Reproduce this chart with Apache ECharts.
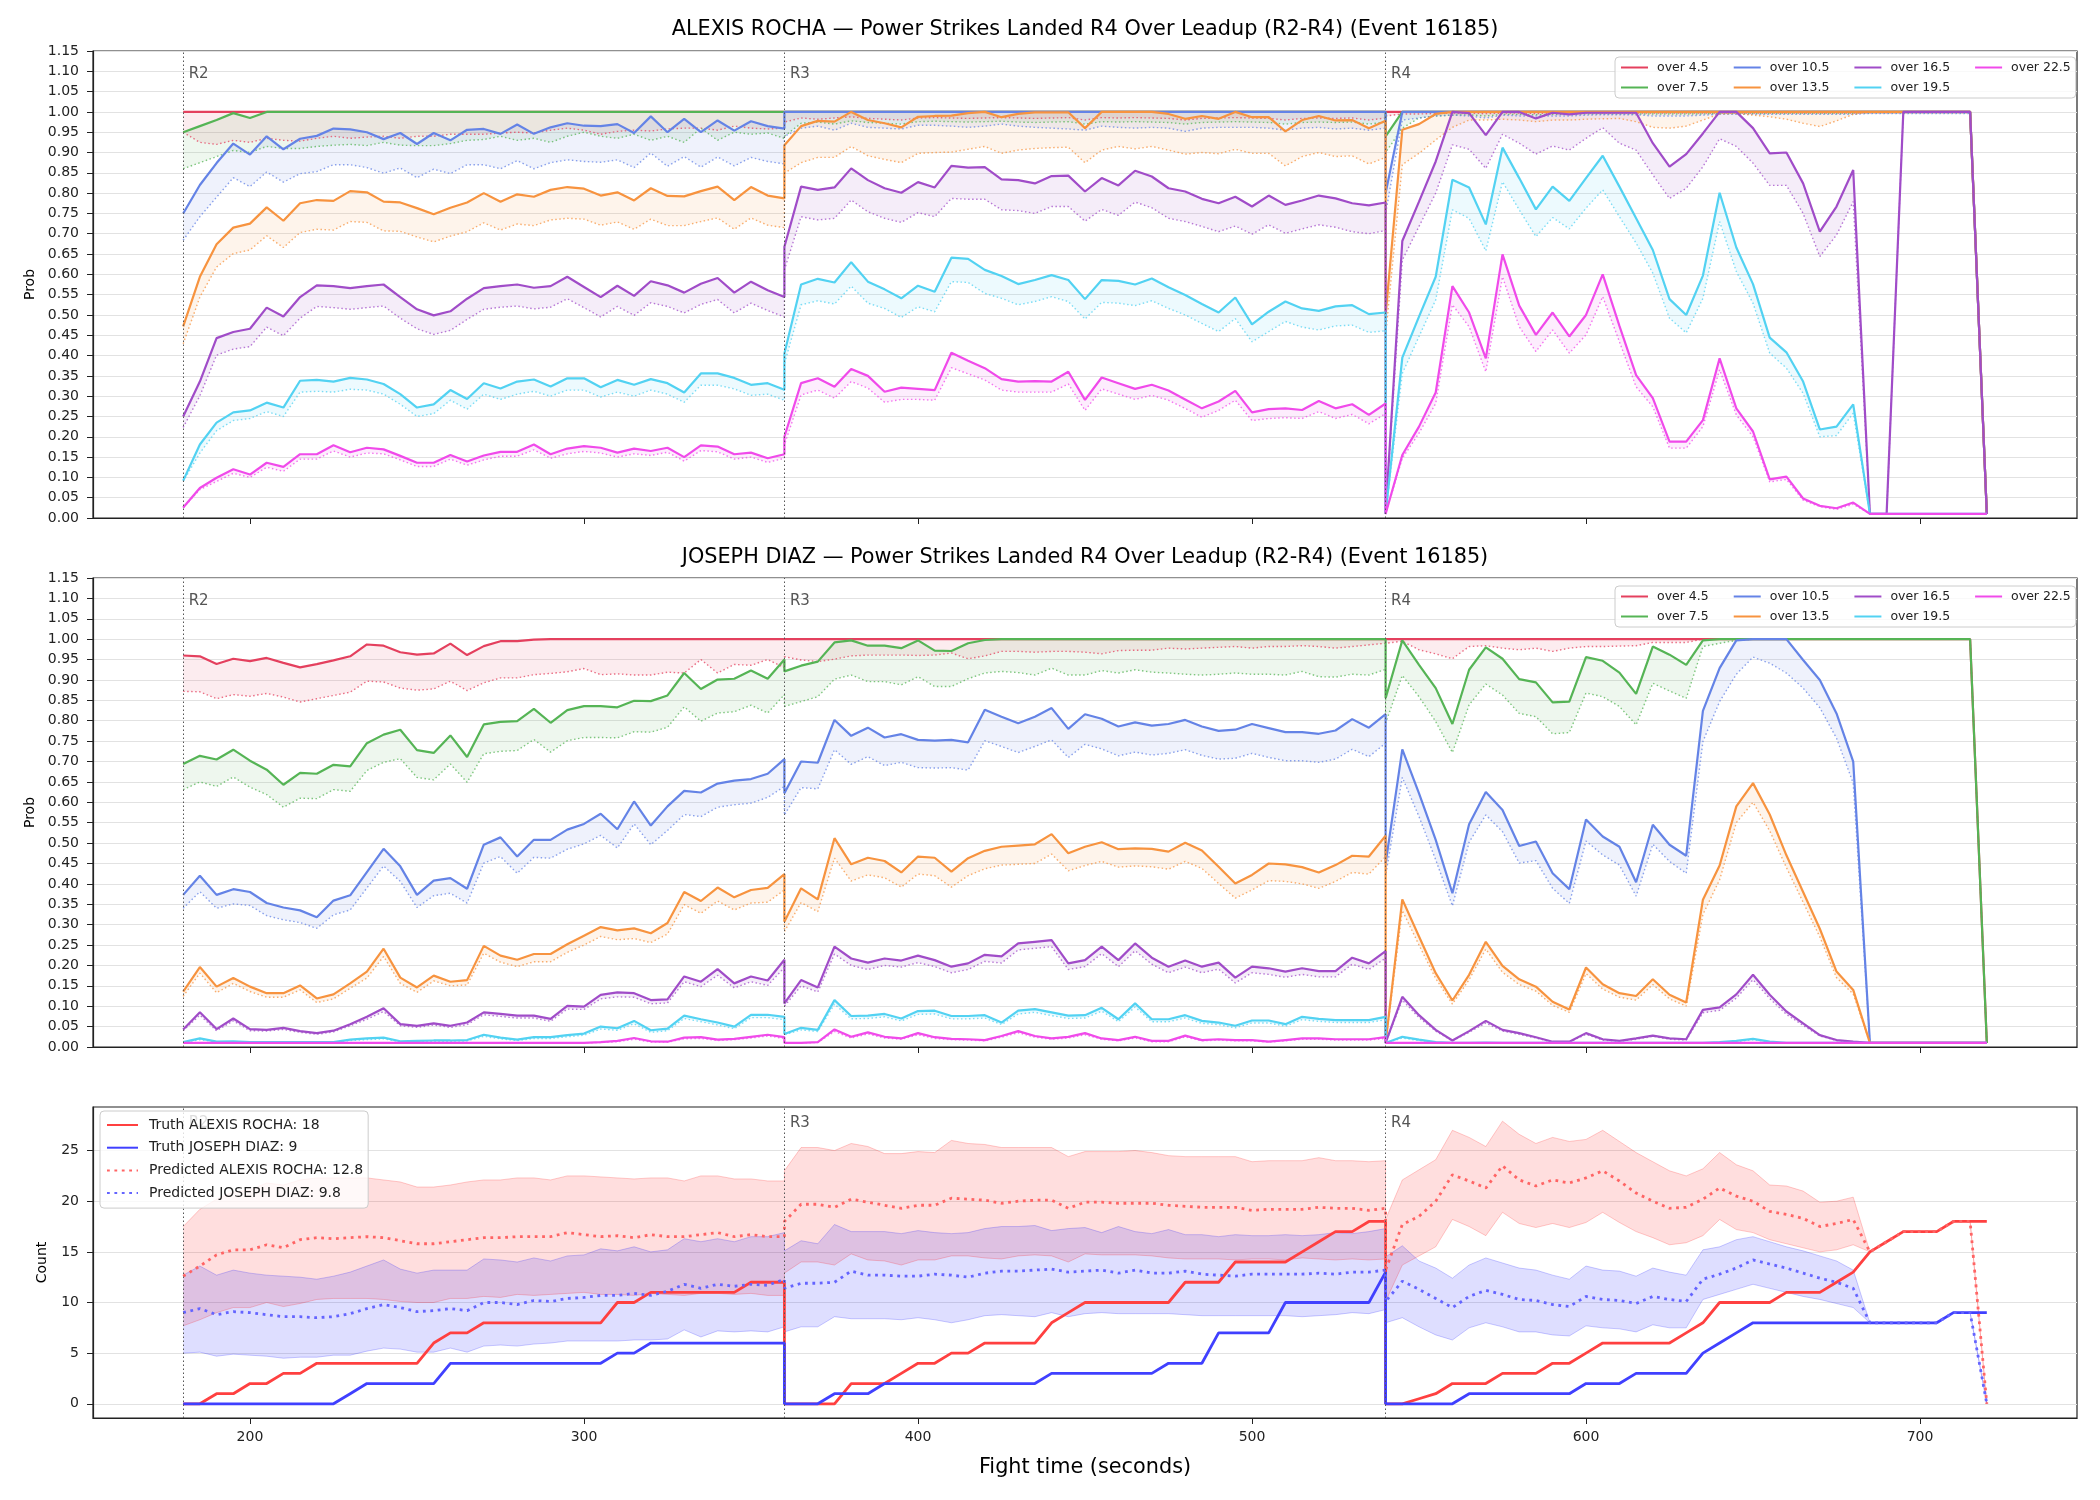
<!DOCTYPE html>
<html>
<head>
<meta charset="utf-8">
<title>Power Strikes Landed R4 Over Leadup</title>
<script src="https://cdn.jsdelivr.net/npm/echarts@6/dist/echarts.min.js"></script>
<style>
html, body { margin: 0; background: #fff; }
#chart { width: 2100px; height: 1500px; }
</style>
</head>
<body>
<div id="chart"></div>
<script>
// fight time of every sample (5 s steps, each round starts again at its boundary)
const times = [
  180,185,190,195,200,205,210,215,220,225,230,235,240,245,250,255,260,265,270,275,280,285,290,295,300,305,310,315,320,325,330,335,340,345,350,355,360,
  360,365,370,375,380,385,390,395,400,405,410,415,420,425,430,435,440,445,450,455,460,465,470,475,480,485,490,495,500,505,510,515,520,525,530,535,540,
  540,545,550,555,560,565,570,575,580,585,590,595,600,605,610,615,620,625,630,635,640,645,650,655,660,665,670,675,680,685,690,695,700,705,710,715,720];

const thresholdNames = ['over 4.5', 'over 7.5', 'over 10.5', 'over 13.5', 'over 16.5', 'over 19.5', 'over 22.5'];
const thresholdColors = ['#e4405e', '#55b455', '#6483e6', '#f7933f', '#a04cc8', '#52d2f2', '#f04aea'];
const roundStarts = [180, 360, 540];
const roundNames = ['R2', 'R3', 'R4'];
const xTicks = [200, 300, 400, 500, 600, 700];
const countTicks = [0, 5, 10, 15, 20, 25];

// ---- ALEXIS ROCHA: live probability (solid) and predicted (dotted) ----
const rochaOver45 = [
  1,1,1,1,1,1,1,1,1,1,1,1,1,1,1,1,1,1,1,1,1,1,1,1,1,1,1,1,1,1,1,1,1,1,1,1,1,
  1,1,1,1,1,1,1,1,1,1,1,1,1,1,1,1,1,1,1,1,1,1,1,1,1,1,1,1,1,1,1,1,1,1,1,1,1,
  1,1,1,1,1,1,1,1,1,1,1,1,1,1,1,1,1,1,1,1,1,1,1,1,1,1,1,1,1,1,1,1,1,1,1,1,0.01];
const rochaOver45Pred = [
  0.95,0.925,0.92,0.93,0.925,0.935,0.93,0.928,0.935,0.94,0.935,0.938,0.94,0.935,0.94,0.94,0.945,0.945,0.945,0.948,0.95,0.948,0.955,0.96,0.955,0.945,0.952,0.955,0.953,0.958,0.96,0.96,0.955,0.965,0.96,0.958,0.96,
  0.975,0.985,0.982,0.985,0.988,0.984,0.982,0.98,0.985,0.986,0.985,0.984,0.985,0.986,0.985,0.984,0.985,0.986,0.98,0.986,0.985,0.986,0.985,0.984,0.98,0.984,0.985,0.986,0.985,0.984,0.98,0.984,0.985,0.984,0.985,0.98,0.985,
  0.99,0.995,0.995,0.996,0.997,0.997,0.996,0.997,0.997,0.996,0.997,0.997,0.997,0.997,0.997,0.997,0.997,0.997,0.997,0.997,0.997,0.997,0.997,0.997,0.997,0.997,0.997,0.997,0.997,0.998,0.998,0.998,0.998,0.998,0.998,0.998,0.01];
const rochaOver75 = [
  0.95,0.965,0.98,0.997,0.985,1,1,1,1,1,1,1,1,1,1,1,1,1,1,1,1,1,1,1,1,1,1,1,1,1,1,1,1,1,1,1,1,
  1,1,1,1,1,1,1,1,1,1,1,1,1,1,1,1,1,1,1,1,1,1,1,1,1,1,1,1,1,1,1,1,1,1,1,1,1,
  0.94,1,1,1,1,1,1,1,1,1,1,1,1,1,1,1,1,1,1,1,1,1,1,1,1,1,1,1,1,1,1,1,1,1,1,1,0.01];
const rochaOver75Pred = [
  0.86,0.875,0.89,0.905,0.9,0.915,0.91,0.91,0.915,0.918,0.92,0.917,0.925,0.918,0.917,0.917,0.922,0.93,0.932,0.94,0.93,0.935,0.925,0.94,0.95,0.94,0.935,0.945,0.93,0.94,0.925,0.96,0.93,0.95,0.945,0.948,0.935,
  0.94,0.972,0.975,0.97,0.978,0.974,0.972,0.97,0.976,0.977,0.976,0.975,0.976,0.977,0.975,0.974,0.975,0.976,0.97,0.976,0.975,0.976,0.975,0.974,0.97,0.974,0.975,0.976,0.975,0.974,0.97,0.974,0.975,0.974,0.975,0.97,0.975,
  0.9,0.96,0.985,0.99,0.992,0.993,0.99,0.994,0.994,0.993,0.994,0.994,0.995,0.995,0.995,0.995,0.995,0.995,0.995,0.995,0.996,0.996,0.996,0.996,0.996,0.996,0.996,0.996,0.996,0.997,0.997,0.997,0.997,0.997,0.997,0.997,0.01];
const rochaOver105 = [
  0.75,0.82,0.874,0.922,0.895,0.94,0.908,0.934,0.941,0.959,0.957,0.95,0.933,0.948,0.921,0.948,0.93,0.956,0.958,0.946,0.969,0.946,0.962,0.972,0.966,0.965,0.97,0.948,0.989,0.95,0.983,0.95,0.979,0.954,0.977,0.965,0.959,
  1,1,1,1,1,1,1,1,1,1,1,1,1,1,1,1,1,1,1,1,1,1,1,1,1,1,1,1,1,1,1,1,1,1,1,1,1,
  0.8,1,1,1,1,1,1,1,1,1,1,1,1,1,1,1,1,1,1,1,1,1,1,1,1,1,1,1,1,1,1,1,1,1,1,1,0.01];
const rochaOver105Pred = [
  0.684,0.742,0.79,0.838,0.816,0.852,0.827,0.848,0.853,0.87,0.87,0.863,0.849,0.862,0.838,0.859,0.848,0.87,0.87,0.86,0.88,0.86,0.875,0.882,0.878,0.876,0.882,0.863,0.899,0.866,0.89,0.864,0.889,0.867,0.888,0.878,0.872,
  0.94,0.96,0.965,0.955,0.972,0.962,0.96,0.958,0.967,0.967,0.965,0.962,0.965,0.97,0.965,0.962,0.96,0.958,0.955,0.965,0.962,0.96,0.962,0.96,0.952,0.96,0.962,0.962,0.962,0.96,0.955,0.96,0.962,0.958,0.96,0.955,0.96,
  0.75,0.98,0.985,0.99,0.992,0.99,0.985,0.992,0.99,0.99,0.99,0.99,0.992,0.993,0.993,0.993,0.99,0.99,0.99,0.992,0.994,0.994,0.994,0.994,0.994,0.994,0.994,0.994,0.994,0.996,0.996,0.996,0.996,0.996,0.996,0.996,0.01];
const rochaOver135 = [
  0.472,0.594,0.674,0.715,0.725,0.765,0.732,0.775,0.783,0.781,0.805,0.802,0.779,0.777,0.763,0.748,0.764,0.777,0.8,0.779,0.797,0.791,0.808,0.815,0.811,0.794,0.802,0.782,0.812,0.793,0.792,0.805,0.816,0.783,0.815,0.794,0.787,
  0.918,0.965,0.978,0.976,1,0.98,0.972,0.962,0.988,0.99,0.991,0.997,1,0.987,0.995,0.999,0.999,0.999,0.96,1,1,1,1,0.995,0.983,0.99,0.983,1,0.987,0.987,0.952,0.98,0.99,0.979,0.98,0.96,0.978,
  0.5,0.956,0.97,0.995,1,1,1,1,1,1,1,1,1,1,1,1,1,1,1,1,1,1,1,1,1,1,1,1,1,1,1,1,1,1,1,1,0.01];
const rochaOver135Pred = [
  0.429,0.544,0.618,0.651,0.66,0.695,0.666,0.703,0.711,0.709,0.73,0.728,0.707,0.706,0.692,0.68,0.694,0.705,0.727,0.709,0.724,0.72,0.734,0.738,0.736,0.721,0.729,0.711,0.736,0.72,0.72,0.73,0.739,0.711,0.739,0.721,0.715,
  0.849,0.875,0.888,0.888,0.915,0.892,0.883,0.875,0.898,0.9,0.901,0.908,0.915,0.898,0.906,0.91,0.912,0.913,0.875,0.906,0.915,0.909,0.915,0.906,0.896,0.9,0.897,0.908,0.898,0.898,0.867,0.89,0.9,0.89,0.892,0.872,0.888,
  0.45,0.87,0.898,0.931,0.962,0.98,0.98,0.982,0.98,0.976,0.98,0.98,0.982,0.983,0.984,0.976,0.962,0.96,0.965,0.98,0.995,0.996,0.992,0.988,0.982,0.972,0.964,0.978,0.994,1,1,1,1,1,1,1,0.01];
const rochaOver165 = [
  0.25,0.336,0.443,0.458,0.466,0.518,0.496,0.544,0.573,0.571,0.566,0.571,0.575,0.544,0.514,0.499,0.509,0.54,0.566,0.571,0.575,0.567,0.571,0.594,0.569,0.544,0.572,0.547,0.583,0.573,0.555,0.577,0.591,0.555,0.582,0.561,0.544,
  0.668,0.816,0.808,0.814,0.861,0.832,0.812,0.801,0.827,0.814,0.867,0.863,0.864,0.834,0.832,0.824,0.842,0.843,0.804,0.837,0.819,0.855,0.841,0.812,0.804,0.786,0.775,0.791,0.767,0.794,0.771,0.782,0.794,0.787,0.775,0.77,0.777,
  0.01,0.682,0.779,0.878,1,0.997,0.943,1,1,0.984,0.998,0.994,0.998,0.998,0.998,0.998,0.923,0.865,0.896,0.947,1,1,0.96,0.898,0.9,0.824,0.705,0.767,0.857,0.01,0.01,1,1,1,1,1,0.01];
const rochaOver165Pred = [
  0.223,0.301,0.401,0.416,0.422,0.47,0.449,0.492,0.521,0.518,0.514,0.518,0.522,0.492,0.466,0.452,0.462,0.489,0.514,0.519,0.522,0.515,0.519,0.54,0.518,0.495,0.521,0.499,0.53,0.521,0.505,0.526,0.538,0.505,0.529,0.511,0.495,
  0.611,0.742,0.734,0.738,0.783,0.754,0.738,0.728,0.752,0.742,0.787,0.785,0.785,0.759,0.757,0.75,0.767,0.767,0.731,0.76,0.745,0.778,0.764,0.738,0.73,0.718,0.705,0.719,0.699,0.722,0.701,0.712,0.722,0.716,0.705,0.7,0.708,
  0.01,0.635,0.718,0.8,0.919,0.908,0.861,0.945,0.923,0.896,0.916,0.906,0.935,0.961,0.923,0.906,0.845,0.787,0.812,0.865,0.934,0.915,0.874,0.819,0.819,0.75,0.644,0.697,0.779,0.01,0.01,1,1,1,1,1,0.01];
const rochaOver195 = [
  0.092,0.181,0.235,0.26,0.265,0.284,0.272,0.338,0.34,0.336,0.345,0.341,0.33,0.305,0.272,0.28,0.315,0.293,0.332,0.319,0.336,0.341,0.324,0.344,0.344,0.322,0.34,0.328,0.342,0.332,0.309,0.356,0.356,0.345,0.328,0.332,0.316,
  0.405,0.575,0.589,0.58,0.63,0.582,0.563,0.541,0.572,0.557,0.641,0.638,0.611,0.596,0.576,0.586,0.598,0.586,0.539,0.586,0.584,0.575,0.59,0.568,0.549,0.527,0.506,0.543,0.477,0.508,0.533,0.516,0.51,0.521,0.524,0.502,0.506,
  0.01,0.395,0.496,0.594,0.833,0.814,0.723,0.912,0.837,0.76,0.816,0.781,0.837,0.892,0.816,0.738,0.66,0.539,0.5,0.597,0.801,0.666,0.576,0.444,0.408,0.336,0.218,0.225,0.28,0.01,0.01,0.01,0.01,0.01,0.01,0.01,0.01];
const rochaOver195Pred = [
  0.09,0.16,0.215,0.24,0.245,0.262,0.25,0.31,0.312,0.31,0.317,0.315,0.305,0.28,0.25,0.257,0.29,0.268,0.305,0.292,0.305,0.312,0.3,0.315,0.315,0.298,0.31,0.3,0.315,0.305,0.285,0.327,0.327,0.318,0.302,0.305,0.29,
  0.38,0.525,0.535,0.527,0.571,0.529,0.516,0.494,0.52,0.508,0.582,0.58,0.553,0.541,0.525,0.533,0.545,0.533,0.49,0.531,0.529,0.523,0.535,0.516,0.5,0.479,0.459,0.491,0.434,0.459,0.484,0.47,0.463,0.473,0.475,0.457,0.461,
  0.01,0.356,0.447,0.537,0.759,0.738,0.658,0.828,0.759,0.693,0.74,0.712,0.763,0.808,0.742,0.677,0.603,0.492,0.456,0.541,0.73,0.607,0.529,0.406,0.369,0.307,0.2,0.203,0.258,0.01,0.01,0.01,0.01,0.01,0.01,0.01,0.01];
const rochaOver225 = [
  0.026,0.074,0.099,0.12,0.107,0.136,0.126,0.157,0.157,0.179,0.162,0.173,0.169,0.153,0.136,0.136,0.155,0.139,0.154,0.163,0.163,0.181,0.157,0.171,0.177,0.173,0.161,0.171,0.165,0.173,0.15,0.179,0.176,0.157,0.161,0.147,0.157,
  0.2,0.332,0.344,0.323,0.367,0.35,0.311,0.321,0.318,0.315,0.407,0.387,0.369,0.342,0.336,0.337,0.336,0.36,0.291,0.346,0.332,0.318,0.328,0.314,0.292,0.27,0.287,0.313,0.26,0.268,0.27,0.266,0.288,0.27,0.28,0.254,0.282,
  0.01,0.155,0.225,0.309,0.571,0.506,0.393,0.649,0.523,0.451,0.506,0.447,0.5,0.6,0.473,0.352,0.295,0.188,0.188,0.241,0.393,0.27,0.213,0.095,0.102,0.048,0.03,0.024,0.038,0.01,0.01,0.01,0.01,0.01,0.01,0.01,0.01];
const rochaOver225Pred = [
  0.025,0.07,0.09,0.11,0.1,0.125,0.115,0.145,0.145,0.165,0.15,0.16,0.158,0.143,0.127,0.127,0.145,0.13,0.143,0.152,0.152,0.168,0.147,0.158,0.164,0.16,0.15,0.158,0.154,0.162,0.14,0.166,0.163,0.145,0.15,0.137,0.147,
  0.18,0.303,0.315,0.295,0.336,0.32,0.285,0.292,0.292,0.29,0.37,0.355,0.34,0.315,0.31,0.31,0.31,0.33,0.265,0.318,0.305,0.292,0.302,0.29,0.27,0.248,0.265,0.29,0.24,0.245,0.247,0.245,0.262,0.245,0.255,0.232,0.257,
  0.01,0.147,0.209,0.282,0.525,0.471,0.36,0.594,0.471,0.41,0.463,0.406,0.451,0.545,0.434,0.323,0.274,0.172,0.172,0.225,0.365,0.254,0.2,0.089,0.095,0.044,0.028,0.021,0.034,0.01,0.01,0.01,0.01,0.01,0.01,0.01,0.01];

// ---- JOSEPH DIAZ ----
const diazOver45 = [
  0.96,0.958,0.939,0.952,0.946,0.954,0.942,0.931,0.939,0.948,0.958,0.987,0.984,0.968,0.962,0.965,0.989,0.961,0.983,0.995,0.995,0.999,1,1,1,1,1,1,1,1,1,1,1,1,1,1,1,
  1,1,1,1,1,1,1,1,1,1,1,1,1,1,1,1,1,1,1,1,1,1,1,1,1,1,1,1,1,1,1,1,1,1,1,1,1,
  1,1,1,1,1,1,1,1,1,1,1,1,1,1,1,1,1,1,1,1,1,1,1,1,1,1,1,1,1,1,1,1,1,1,1,1,0.01];
const diazOver45Pred = [
  0.872,0.871,0.854,0.864,0.86,0.867,0.858,0.846,0.854,0.862,0.87,0.897,0.895,0.88,0.875,0.878,0.897,0.874,0.893,0.905,0.905,0.913,0.916,0.92,0.928,0.913,0.915,0.912,0.912,0.919,0.917,0.95,0.917,0.938,0.936,0.95,0.93,
  0.957,0.949,0.945,0.951,0.959,0.961,0.961,0.961,0.96,0.961,0.966,0.952,0.959,0.97,0.97,0.968,0.97,0.97,0.968,0.964,0.972,0.973,0.973,0.978,0.976,0.978,0.98,0.982,0.978,0.982,0.982,0.984,0.982,0.978,0.982,0.986,0.99,
  0.99,0.995,0.974,0.964,0.952,0.982,0.984,0.978,0.974,0.978,0.97,0.978,0.982,0.982,0.983,0.984,0.992,0.992,0.992,1,1,1,1,1,1,1,1,1,1,1,1,1,1,1,1,1,0.01];
const diazOver75 = [
  0.694,0.714,0.705,0.729,0.702,0.68,0.643,0.672,0.67,0.692,0.688,0.745,0.766,0.778,0.728,0.721,0.764,0.711,0.791,0.797,0.799,0.829,0.795,0.826,0.836,0.836,0.833,0.849,0.848,0.862,0.917,0.878,0.901,0.903,0.923,0.903,0.95,
  0.921,0.935,0.945,0.992,0.997,0.984,0.984,0.978,0.997,0.972,0.971,0.99,0.998,1,1,1,1,1,1,1,1,1,1,1,1,1,1,1,1,1,1,1,1,1,1,1,1,
  0.855,0.997,0.937,0.88,0.792,0.925,0.98,0.952,0.902,0.894,0.845,0.847,0.956,0.947,0.918,0.866,0.982,0.962,0.937,0.997,1,1,1,1,1,1,1,1,1,1,1,1,1,1,1,1,0.01];
const diazOver75Pred = [
  0.631,0.65,0.639,0.662,0.637,0.619,0.588,0.61,0.609,0.631,0.627,0.678,0.698,0.707,0.661,0.655,0.694,0.649,0.719,0.725,0.727,0.754,0.723,0.751,0.759,0.759,0.758,0.773,0.772,0.784,0.834,0.799,0.819,0.822,0.838,0.819,0.864,
  0.835,0.847,0.859,0.902,0.912,0.896,0.896,0.888,0.908,0.884,0.884,0.903,0.917,0.921,0.918,0.912,0.929,0.912,0.912,0.923,0.917,0.925,0.919,0.917,0.914,0.912,0.914,0.917,0.914,0.914,0.912,0.921,0.908,0.907,0.914,0.912,0.926,
  0.794,0.911,0.859,0.798,0.722,0.839,0.89,0.863,0.818,0.81,0.768,0.771,0.868,0.859,0.835,0.79,0.892,0.873,0.855,0.982,0.99,0.997,1,1,1,1,1,1,1,1,1,1,1,1,1,1,0.01];
const diazOver105 = [
  0.373,0.42,0.373,0.387,0.38,0.353,0.342,0.335,0.318,0.359,0.372,0.429,0.486,0.443,0.373,0.408,0.414,0.388,0.496,0.514,0.467,0.508,0.508,0.533,0.547,0.572,0.534,0.602,0.543,0.59,0.628,0.624,0.646,0.653,0.657,0.67,0.706,
  0.622,0.7,0.697,0.802,0.763,0.783,0.759,0.767,0.753,0.751,0.753,0.747,0.827,0.81,0.794,0.81,0.831,0.78,0.816,0.805,0.786,0.796,0.788,0.792,0.802,0.786,0.775,0.778,0.792,0.782,0.772,0.772,0.768,0.776,0.804,0.783,0.816,
  0.45,0.73,0.622,0.508,0.377,0.546,0.625,0.581,0.493,0.504,0.426,0.387,0.558,0.516,0.491,0.404,0.545,0.496,0.469,0.824,0.929,0.997,1,1,1,0.949,0.9,0.818,0.7,0.01,0.01,0.01,0.01,0.01,0.01,0.01,0.01];
const diazOver105Pred = [
  0.34,0.381,0.34,0.351,0.347,0.322,0.312,0.305,0.291,0.324,0.336,0.39,0.444,0.406,0.342,0.371,0.377,0.353,0.451,0.467,0.426,0.465,0.463,0.485,0.498,0.519,0.488,0.547,0.496,0.531,0.57,0.565,0.588,0.594,0.598,0.612,0.639,
  0.569,0.636,0.633,0.729,0.693,0.712,0.69,0.698,0.685,0.684,0.685,0.679,0.751,0.737,0.722,0.737,0.753,0.71,0.742,0.731,0.714,0.723,0.716,0.72,0.729,0.715,0.706,0.708,0.72,0.71,0.702,0.702,0.698,0.706,0.73,0.712,0.745,
  0.42,0.661,0.565,0.459,0.346,0.502,0.569,0.528,0.451,0.457,0.389,0.352,0.505,0.471,0.446,0.37,0.497,0.455,0.426,0.749,0.847,0.914,0.956,0.941,0.917,0.88,0.832,0.757,0.647,0.01,0.01,0.01,0.01,0.01,0.01,0.01,0.01];
const diazOver135 = [
  0.136,0.196,0.148,0.169,0.148,0.132,0.132,0.151,0.119,0.129,0.156,0.185,0.241,0.17,0.146,0.175,0.16,0.164,0.248,0.224,0.214,0.228,0.228,0.252,0.273,0.294,0.286,0.291,0.279,0.304,0.38,0.358,0.391,0.367,0.385,0.39,0.424,
  0.307,0.389,0.362,0.512,0.448,0.464,0.456,0.428,0.467,0.464,0.43,0.463,0.481,0.491,0.494,0.497,0.522,0.475,0.491,0.502,0.485,0.487,0.486,0.479,0.501,0.482,0.442,0.401,0.422,0.45,0.448,0.441,0.428,0.446,0.469,0.467,0.518,
  0.01,0.362,0.271,0.181,0.114,0.177,0.258,0.199,0.166,0.148,0.111,0.092,0.195,0.154,0.132,0.125,0.166,0.128,0.109,0.361,0.445,0.59,0.647,0.57,0.47,0.38,0.29,0.185,0.14,0.01,0.01,0.01,0.01,0.01,0.01,0.01,0.01];
const diazOver135Pred = [
  0.124,0.181,0.133,0.156,0.136,0.122,0.122,0.14,0.109,0.118,0.144,0.169,0.222,0.156,0.134,0.162,0.15,0.152,0.23,0.208,0.197,0.209,0.209,0.232,0.25,0.271,0.263,0.266,0.256,0.277,0.349,0.328,0.358,0.336,0.353,0.355,0.385,
  0.283,0.354,0.332,0.463,0.407,0.422,0.415,0.392,0.424,0.42,0.392,0.42,0.437,0.446,0.448,0.45,0.473,0.432,0.445,0.455,0.441,0.444,0.442,0.436,0.455,0.438,0.401,0.365,0.385,0.408,0.406,0.4,0.389,0.406,0.428,0.424,0.467,
  0.01,0.335,0.25,0.168,0.105,0.165,0.24,0.183,0.153,0.137,0.102,0.085,0.18,0.142,0.122,0.115,0.153,0.118,0.1,0.325,0.41,0.55,0.6,0.53,0.44,0.355,0.27,0.17,0.13,0.01,0.01,0.01,0.01,0.01,0.01,0.01,0.01];
const diazOver165 = [
  0.043,0.085,0.044,0.07,0.044,0.042,0.047,0.039,0.034,0.04,0.056,0.074,0.095,0.056,0.052,0.058,0.052,0.06,0.085,0.081,0.077,0.077,0.069,0.101,0.099,0.128,0.134,0.132,0.115,0.117,0.173,0.16,0.191,0.156,0.173,0.163,0.214,
  0.107,0.164,0.146,0.246,0.217,0.207,0.217,0.212,0.224,0.213,0.197,0.205,0.226,0.222,0.254,0.258,0.262,0.205,0.213,0.246,0.213,0.254,0.219,0.197,0.212,0.197,0.207,0.17,0.197,0.193,0.185,0.193,0.186,0.186,0.219,0.205,0.235,
  0.01,0.123,0.078,0.042,0.016,0.039,0.064,0.042,0.034,0.024,0.013,0.013,0.034,0.019,0.015,0.021,0.028,0.021,0.019,0.091,0.097,0.129,0.177,0.128,0.087,0.058,0.029,0.017,0.013,0.01,0.01,0.01,0.01,0.01,0.01,0.01,0.01];
const diazOver165Pred = [
  0.04,0.078,0.04,0.064,0.04,0.039,0.043,0.036,0.031,0.037,0.052,0.068,0.087,0.052,0.048,0.054,0.048,0.055,0.079,0.075,0.071,0.071,0.063,0.093,0.092,0.118,0.123,0.122,0.106,0.108,0.16,0.148,0.176,0.145,0.16,0.151,0.195,
  0.1,0.15,0.135,0.228,0.2,0.19,0.2,0.196,0.207,0.197,0.182,0.19,0.21,0.206,0.238,0.242,0.246,0.19,0.197,0.229,0.197,0.236,0.203,0.182,0.196,0.182,0.191,0.157,0.182,0.178,0.171,0.178,0.172,0.172,0.203,0.19,0.218,
  0.01,0.115,0.072,0.039,0.015,0.036,0.059,0.039,0.031,0.022,0.012,0.012,0.031,0.017,0.014,0.019,0.026,0.019,0.017,0.084,0.09,0.12,0.165,0.119,0.08,0.053,0.027,0.016,0.012,0.01,0.01,0.01,0.01,0.01,0.01,0.01,0.01];
const diazOver195 = [
  0.012,0.021,0.013,0.014,0.012,0.012,0.012,0.012,0.012,0.012,0.018,0.021,0.023,0.014,0.015,0.016,0.016,0.017,0.03,0.023,0.018,0.024,0.024,0.029,0.033,0.05,0.046,0.064,0.041,0.045,0.077,0.068,0.06,0.05,0.079,0.079,0.074,
  0.032,0.047,0.042,0.115,0.076,0.077,0.081,0.07,0.088,0.089,0.076,0.076,0.078,0.06,0.089,0.093,0.085,0.077,0.078,0.096,0.068,0.107,0.068,0.068,0.078,0.064,0.06,0.052,0.065,0.065,0.056,0.074,0.069,0.066,0.066,0.066,0.074,
  0.01,0.025,0.018,0.012,0.01,0.01,0.011,0.01,0.01,0.01,0.01,0.01,0.01,0.01,0.01,0.01,0.01,0.01,0.01,0.01,0.012,0.015,0.02,0.013,0.01,0.01,0.01,0.01,0.01,0.01,0.01,0.01,0.01,0.01,0.01,0.01,0.01];
const diazOver195Pred = [
  0.011,0.018,0.012,0.013,0.011,0.011,0.011,0.011,0.011,0.011,0.016,0.018,0.02,0.013,0.013,0.014,0.014,0.015,0.026,0.02,0.016,0.021,0.021,0.025,0.029,0.044,0.041,0.057,0.036,0.04,0.07,0.062,0.054,0.045,0.072,0.072,0.067,
  0.03,0.042,0.038,0.105,0.069,0.07,0.074,0.064,0.08,0.081,0.069,0.069,0.071,0.055,0.081,0.085,0.077,0.07,0.071,0.088,0.062,0.098,0.062,0.062,0.071,0.058,0.055,0.047,0.059,0.059,0.051,0.067,0.063,0.06,0.06,0.06,0.067,
  0.01,0.022,0.016,0.011,0.01,0.01,0.01,0.01,0.01,0.01,0.01,0.01,0.01,0.01,0.01,0.01,0.01,0.01,0.01,0.01,0.011,0.013,0.018,0.012,0.01,0.01,0.01,0.01,0.01,0.01,0.01,0.01,0.01,0.01,0.01,0.01,0.01];
const diazOver225 = [
  0.01,0.01,0.01,0.01,0.01,0.01,0.01,0.01,0.01,0.01,0.01,0.01,0.01,0.01,0.01,0.01,0.01,0.01,0.01,0.01,0.01,0.01,0.01,0.01,0.01,0.012,0.015,0.022,0.014,0.013,0.023,0.024,0.018,0.02,0.025,0.03,0.024,
  0.01,0.01,0.012,0.043,0.025,0.036,0.025,0.021,0.034,0.024,0.02,0.019,0.017,0.027,0.039,0.027,0.021,0.025,0.034,0.021,0.017,0.025,0.015,0.015,0.028,0.017,0.019,0.017,0.017,0.013,0.017,0.021,0.021,0.019,0.019,0.019,0.024,
  0.01,0.01,0.01,0.01,0.01,0.01,0.01,0.01,0.01,0.01,0.01,0.01,0.01,0.01,0.01,0.01,0.01,0.01,0.01,0.01,0.01,0.01,0.01,0.01,0.01,0.01,0.01,0.01,0.01,0.01,0.01,0.01,0.01,0.01,0.01,0.01,0.01];
const diazOver225Pred = [
  0.01,0.01,0.01,0.01,0.01,0.01,0.01,0.01,0.01,0.01,0.01,0.01,0.01,0.01,0.01,0.01,0.01,0.01,0.01,0.01,0.01,0.01,0.01,0.01,0.01,0.011,0.013,0.019,0.012,0.012,0.02,0.021,0.016,0.018,0.022,0.027,0.021,
  0.01,0.01,0.011,0.038,0.022,0.032,0.022,0.019,0.03,0.021,0.018,0.017,0.015,0.024,0.035,0.024,0.019,0.022,0.03,0.019,0.015,0.022,0.013,0.013,0.025,0.015,0.017,0.015,0.015,0.012,0.015,0.019,0.019,0.017,0.017,0.017,0.021,
  0.01,0.01,0.01,0.01,0.01,0.01,0.01,0.01,0.01,0.01,0.01,0.01,0.01,0.01,0.01,0.01,0.01,0.01,0.01,0.01,0.01,0.01,0.01,0.01,0.01,0.01,0.01,0.01,0.01,0.01,0.01,0.01,0.01,0.01,0.01,0.01,0.01];

// ---- counts panel ----
const truthRocha = [
  0,0,1,1,2,2,3,3,4,4,4,4,4,4,4,6,7,7,8,8,8,8,8,8,8,8,10,10,11,11,11,11,11,11,12,12,12,
  0,0,0,0,2,2,2,3,4,4,5,5,6,6,6,6,8,9,10,10,10,10,10,10,12,12,12,14,14,14,14,15,16,17,17,18,18,
  0,0,0.5,1,2,2,2,3,3,3,4,4,5,6,6,6,6,6,7,8,10,10,10,10,11,11,11,12,13,15,16,17,17,17,18,18,18];
const truthDiaz = [
  0,0,0,0,0,0,0,0,0,0,1,2,2,2,2,2,4,4,4,4,4,4,4,4,4,4,5,5,6,6,6,6,6,6,6,6,6,
  0,0,0,1,1,1,2,2,2,2,2,2,2,2,2,2,3,3,3,3,3,3,3,4,4,4,7,7,7,7,10,10,10,10,10,10,13,
  0,0,0,0,0,1,1,1,1,1,1,1,2,2,2,3,3,3,3,5,6,7,8,8,8,8,8,8,8,8,8,8,8,8,9,9,9];
const predRocha = [
  12.6,13.6,14.7,15.2,15.2,15.7,15.4,16.2,16.4,16.3,16.4,16.5,16.4,16.1,15.8,15.8,16.0,16.2,16.4,16.4,16.5,16.5,16.5,16.9,16.7,16.5,16.6,16.4,16.7,16.5,16.5,16.7,16.9,16.5,16.7,16.5,16.5,
  18.0,19.7,19.7,19.4,20.2,19.9,19.6,19.3,19.6,19.6,20.3,20.2,20.1,19.8,20.0,20.1,20.1,19.3,19.9,19.9,19.8,19.8,19.8,19.6,19.5,19.4,19.4,19.4,19.1,19.2,19.2,19.2,19.4,19.3,19.3,19.1,19.3,
  13.2,17.7,18.5,20.0,22.6,22.0,21.3,23.5,22.1,21.5,22.1,21.8,22.3,23.0,22.0,20.8,20.0,19.3,19.4,20.2,21.3,20.5,20.0,19.0,18.7,18.3,17.5,17.8,18.2,15,16,17,17,17,18,18,0];
const upperRocha = [
  17.5,19.2,20.2,20.9,21.1,21.8,21.6,22.1,22.3,22.3,22.3,22.3,22.1,21.9,21.4,21.4,21.6,21.9,22.1,22.1,22.3,22.3,22.1,22.5,22.5,22.4,22.3,22.2,22.3,22.3,22.0,22.5,22.5,22.2,22.2,22.0,22.0,
  23.0,25.3,25.3,25.0,25.7,25.4,24.7,24.7,24.9,24.8,26.0,25.7,25.6,25.3,25.3,25.3,25.3,24.4,24.9,24.9,24.9,25.0,24.8,24.5,24.4,24.4,24.4,24.4,23.9,24.0,24.0,24.0,24.3,24.0,24.0,23.9,24.0,
  18.2,22.1,23.1,24.1,27.0,26.3,25.4,27.9,26.6,25.7,26.3,25.9,26.1,27.0,25.9,24.8,23.9,23.0,22.5,23.2,24.8,23.6,23.0,21.6,21.5,21.0,19.9,20.0,20.4,15,16,17,17,17,18,18,0];
const lowerRocha = [
  7.7,8.3,9.0,9.5,9.5,10.0,9.6,9.9,10.3,10.4,10.4,10.4,10.3,10.1,10.0,10.0,10.4,10.4,10.6,10.5,10.8,10.7,10.8,10.9,11.0,10.8,10.8,10.7,10.9,10.8,10.7,10.9,10.9,10.8,10.9,10.7,10.7,
  12.9,14.0,14.0,13.7,14.8,14.2,14.1,13.7,14.2,14.2,14.6,14.6,14.4,14.3,14.6,14.7,14.6,14.0,14.8,14.7,14.7,14.7,14.6,14.4,14.3,14.3,14.3,14.2,14.3,14.3,14.2,14.4,14.3,14.2,14.3,14.2,14.3,
  10.1,13.7,14.6,15.5,18.2,17.5,16.6,18.9,17.8,17.4,17.8,17.4,17.9,18.9,17.9,17.0,16.4,15.7,15.9,16.6,18.2,17.2,16.9,16.2,15.8,15.4,15.0,15.2,15.7,15,16,17,17,17,18,18,0];
const predDiaz = [
  9.0,9.4,8.8,9.1,9.0,8.8,8.6,8.6,8.5,8.6,8.9,9.4,9.8,9.5,9.1,9.2,9.4,9.2,10.0,10.0,9.8,10.2,10.1,10.4,10.5,10.7,10.7,10.9,10.7,11.1,11.8,11.4,11.8,11.6,11.8,11.7,12.3,
  11.4,11.9,11.9,12.0,13.1,12.7,12.7,12.6,12.6,12.8,12.7,12.5,12.9,13.1,13.1,13.2,13.3,13.0,13.1,13.2,12.9,13.2,12.9,12.9,13.1,12.8,12.7,12.6,12.8,12.8,12.8,12.8,12.9,12.8,13.0,13.0,13.2,
  10.1,12.1,11.3,10.4,9.5,10.6,11.2,10.8,10.3,10.2,9.8,9.6,10.6,10.3,10.2,9.9,10.6,10.3,10.1,12.3,12.8,13.4,14.2,13.8,13.4,12.9,12.4,12.0,11.4,8,8,8,8,8,9,9,0];
const upperDiaz = [
  12.7,13.6,12.7,13.2,12.9,12.7,12.6,12.5,12.3,12.6,13.0,13.6,14.2,13.3,12.9,13.2,13.2,13.2,14.3,14.2,14.0,14.4,14.1,14.6,14.7,15.3,15.1,15.5,15.0,15.2,16.3,16.0,16.3,16.0,16.5,16.5,16.9,
  15.1,16.1,15.8,17.7,17.0,17.0,17.0,16.8,17.1,16.9,16.8,16.9,17.3,17.5,17.5,17.6,17.1,17.3,17.4,16.9,17.5,17.0,16.8,17.2,16.7,16.7,16.5,16.7,16.6,16.6,16.7,16.6,16.7,16.9,16.8,17.0,17.3,
  14.5,15.6,14.1,13.4,12.4,13.7,14.4,13.9,13.4,13.2,12.7,12.3,13.6,13.2,13.1,12.6,13.4,13.0,12.7,15.2,15.5,16.2,16.5,16.0,15.5,15.1,14.6,14.1,13.2,8,8,8,8,8,9,9,0];
const lowerDiaz = [
  5.0,5.1,4.7,4.9,4.8,4.7,4.5,4.6,4.6,4.8,4.8,5.2,5.5,5.4,5.1,5.1,5.5,5.1,5.7,5.8,5.7,5.9,6.0,6.2,6.2,6.2,6.2,6.3,6.3,6.4,7.3,6.6,7.2,7.1,7.2,7.1,7.6,
  7.1,7.6,7.6,8.6,8.4,8.4,8.4,8.3,8.5,8.3,8.0,8.3,8.7,8.8,8.7,8.6,9.0,8.6,8.9,9.0,8.9,8.9,8.9,8.9,8.8,8.7,8.7,8.7,8.7,8.7,8.7,8.6,8.7,8.8,9.0,8.9,9.3,
  8.0,8.5,7.6,6.8,6.3,7.5,8.0,7.6,7.1,7.1,6.8,6.7,7.7,7.5,7.4,7.1,7.8,7.5,7.5,10.3,10.8,11.3,11.8,11.4,11.0,10.6,10.3,9.9,9.5,8,8,8,8,8,9,9,0];

const titleRocha = 'ALEXIS ROCHA \u2014 Power Strikes Landed R4 Over Leadup (R2-R4) (Event 16185)';
const titleDiaz = 'JOSEPH DIAZ \u2014 Power Strikes Landed R4 Over Leadup (R2-R4) (Event 16185)';

const rochaSolid = [rochaOver45, rochaOver75, rochaOver105, rochaOver135, rochaOver165, rochaOver195, rochaOver225];
const rochaPred = [rochaOver45Pred, rochaOver75Pred, rochaOver105Pred, rochaOver135Pred, rochaOver165Pred, rochaOver195Pred, rochaOver225Pred];
const diazSolid = [diazOver45, diazOver75, diazOver105, diazOver135, diazOver165, diazOver195, diazOver225];
const diazPred = [diazOver45Pred, diazOver75Pred, diazOver105Pred, diazOver135Pred, diazOver165Pred, diazOver195Pred, diazOver225Pred];

// sanity check of the hand typed arrays
[].concat(rochaSolid, rochaPred, diazSolid, diazPred,
  [truthRocha, truthDiaz, predRocha, upperRocha, lowerRocha, predDiaz, upperDiaz, lowerDiaz])
  .forEach((arr, i) => { if (arr.length !== times.length) console.error('array ' + i + ' has ' + arr.length); });

const FONT = 'DejaVu Sans';
const chart = echarts.init(document.getElementById('chart'), null, { renderer: 'canvas' });

function pairs(vals) {
  return times.map((t, i) => [t, vals[i]]);
}

function hexToRgba(hex, a) {
  const n = parseInt(hex.slice(1), 16);
  return 'rgba(' + (n >> 16) + ',' + ((n >> 8) & 255) + ',' + (n & 255) + ',' + a + ')';
}

// shaded region between two curves, drawn as one polygon through the axes' own scales
function fillBetween(p, upper, lower, fill, z) {
  return {
    type: 'custom', xAxisIndex: p, yAxisIndex: p, silent: true, z: z, clip: true,
    data: [[times[0], lower[0]]],
    renderItem: function (params, api) {
      const pts = [];
      for (let i = 0; i < times.length; i++) pts.push(api.coord([times[i], upper[i]]));
      for (let i = times.length - 1; i >= 0; i--) pts.push(api.coord([times[i], lower[i]]));
      return { type: 'polygon', shape: { points: pts }, style: { fill: fill, stroke: null } };
    }
  };
}

function roundMarkers(labelY, z) {
  return {
    markLine: {
      silent: true, animation: false, symbol: ['none', 'none'],
      label: { show: false },
      lineStyle: { color: '#555', width: 1, type: [1.5, 2.5] },
      data: roundStarts.map(x => ({ xAxis: x }))
    },
    markPoint: {
      silent: true, animation: false, symbol: 'rect', symbolSize: 1, z: z,
      itemStyle: { color: 'rgba(0,0,0,0)' },
      label: { show: true, position: 'right', distance: 5, formatter: '{b}', color: '#555', fontSize: 15, fontFamily: FONT },
      data: roundNames.map((n, j) => ({ name: n, coord: [roundStarts[j], labelY] }))
    }
  };
}

// one probability panel: shaded gap, dotted prediction, solid live line
function probabilityPanel(p, solids, preds) {
  const list = [];
  solids.forEach((solid, k) => {
    list.push(fillBetween(p, solid, preds[k], hexToRgba(thresholdColors[k], 0.1), 1));
  });
  preds.forEach((pred, k) => {
    list.push({
      type: 'line', name: thresholdNames[k] + ' predicted', xAxisIndex: p, yAxisIndex: p,
      data: pairs(pred), symbol: 'none', silent: true, z: 2,
      lineStyle: { color: thresholdColors[k], width: 1.4, type: [1.5, 2.5], opacity: 0.75 }
    });
  });
  solids.forEach((solid, k) => {
    const s = {
      type: 'line', name: thresholdNames[k], xAxisIndex: p, yAxisIndex: p,
      data: pairs(solid), symbol: 'none', z: 3,
      lineStyle: { color: thresholdColors[k], width: 2.2 },
      itemStyle: { color: thresholdColors[k] }
    };
    if (k === 0) Object.assign(s, roundMarkers(1.094, 5));
    list.push(s);
  });
  return list;
}

function bandEdge(vals, color) {
  return {
    type: 'line', xAxisIndex: 2, yAxisIndex: 2, data: pairs(vals), symbol: 'none', silent: true, z: 1,
    lineStyle: { color: color, width: 1, opacity: 0.2 }
  };
}

const countSeries = [
  fillBetween(2, upperRocha, lowerRocha, 'rgba(255,0,0,0.13)', 1),
  fillBetween(2, upperDiaz, lowerDiaz, 'rgba(0,0,255,0.13)', 1),
  bandEdge(upperRocha, '#ff0000'),
  bandEdge(lowerRocha, '#ff0000'),
  bandEdge(upperDiaz, '#0000ff'),
  bandEdge(lowerDiaz, '#0000ff'),
  Object.assign({
    type: 'line', name: 'Truth ALEXIS ROCHA: 18', xAxisIndex: 2, yAxisIndex: 2,
    data: pairs(truthRocha), symbol: 'none', z: 3,
    lineStyle: { color: '#ff4040', width: 2.8 }, itemStyle: { color: '#ff4040' }
  }, roundMarkers(27.7, 2)),
  {
    type: 'line', name: 'Truth JOSEPH DIAZ: 9', xAxisIndex: 2, yAxisIndex: 2,
    data: pairs(truthDiaz), symbol: 'none', z: 3,
    lineStyle: { color: '#4040ff', width: 2.8 }, itemStyle: { color: '#4040ff' }
  },
  {
    type: 'line', name: 'Predicted ALEXIS ROCHA: 12.8', xAxisIndex: 2, yAxisIndex: 2,
    data: pairs(predRocha), symbol: 'none', z: 3,
    lineStyle: { color: '#ff6464', width: 2.8, type: [2.8, 4.6] }, itemStyle: { color: '#ff6464' }
  },
  {
    type: 'line', name: 'Predicted JOSEPH DIAZ: 9.8', xAxisIndex: 2, yAxisIndex: 2,
    data: pairs(predDiaz), symbol: 'none', z: 3,
    lineStyle: { color: '#6464ff', width: 2.8, type: [2.8, 4.6] }, itemStyle: { color: '#6464ff' }
  }
];

const gridBoxes = [
  { top: 51, height: 467 },
  { top: 578, height: 469 },
  { top: 1107, height: 311 }
];

const xAxes = gridBoxes.map((g, i) => ({
  type: 'value', gridIndex: i, min: 153, max: 747,
  axisLine: { show: true, onZero: false, lineStyle: { color: '#222', width: 1.2 } },
  axisTick: { show: true, length: 6, customValues: xTicks, lineStyle: { color: '#222' } },
  axisLabel: { show: i === 2, customValues: xTicks, fontSize: 14, color: '#222', margin: 12, fontFamily: FONT },
  splitLine: { show: false },
  name: i === 2 ? 'Fight time (seconds)' : '',
  nameLocation: 'middle', nameGap: 39,
  nameTextStyle: { fontSize: 20.8, color: '#000', fontFamily: FONT }
}));

const probAxis = i => ({
  type: 'value', gridIndex: i, min: 0, max: 1.15, interval: 0.05,
  axisLine: { show: true, lineStyle: { color: '#222', width: 1.2 } },
  axisTick: { show: true, length: 6, lineStyle: { color: '#222' } },
  axisLabel: { fontSize: 14, color: '#222', margin: 14, fontFamily: FONT, formatter: v => v.toFixed(2) },
  splitLine: { show: true, lineStyle: { color: '#e2e2e2', width: 1 } },
  name: 'Prob', nameLocation: 'middle', nameGap: 56,
  nameTextStyle: { fontSize: 14, color: '#000', fontFamily: FONT }
});

const yAxes = [
  probAxis(0),
  probAxis(1),
  {
    type: 'value', gridIndex: 2, min: -1.4, max: 29.3,
    axisLine: { show: true, lineStyle: { color: '#222', width: 1.2 } },
    axisTick: { show: true, length: 6, customValues: countTicks, lineStyle: { color: '#222' } },
    axisLabel: { customValues: countTicks, fontSize: 14, color: '#222', margin: 14, fontFamily: FONT },
    splitLine: { show: true, lineStyle: { color: '#e2e2e2', width: 1 } },
    name: 'Count', nameLocation: 'middle', nameGap: 44,
    nameTextStyle: { fontSize: 14, color: '#000', fontFamily: FONT }
  }
];

// legend rows drawn like matplotlib's ncol=4 legend
function thresholdLegends(top) {
  const common = {
    orient: 'horizontal', left: 1615, itemWidth: 27, itemHeight: 14, itemGap: 24,
    itemStyle: { opacity: 0 },
    textStyle: { fontSize: 12.5, color: '#222', fontFamily: FONT, padding: [0, 0, 0, 4] }
  };
  return [
    Object.assign({}, common, {
      top: top, padding: [4, 5, 24, 5], z: 6,
      backgroundColor: 'rgba(255,255,255,0.8)', borderColor: '#cccccc', borderWidth: 1, borderRadius: 4,
      data: ['over 4.5', 'over 10.5', 'over 16.5', 'over 22.5']
    }),
    Object.assign({}, common, {
      top: top + 24, padding: [0, 5, 0, 5], z: 7,
      data: ['over 7.5', 'over 13.5', 'over 19.5']
    })
  ];
}

const option = {
  animation: false,
  backgroundColor: '#ffffff',
  textStyle: { fontFamily: FONT },
  grid: gridBoxes.map(g => ({
    left: 93, right: 23, top: g.top, height: g.height,
    show: true, borderColor: '#222', borderWidth: 1.2, backgroundColor: 'transparent',
    outerBoundsMode: 'none'
  })),
  xAxis: xAxes,
  yAxis: yAxes,
  legend: [].concat(
    thresholdLegends(57),
    thresholdLegends(586),
    [{
      orient: 'vertical', left: 100, top: 1111, padding: [7, 5, 8, 6], z: 6,
      itemWidth: 31, itemHeight: 14, itemGap: 8.7,
      itemStyle: { opacity: 0 },
      backgroundColor: 'rgba(255,255,255,0.8)', borderColor: '#cccccc', borderWidth: 1, borderRadius: 4,
      textStyle: { fontSize: 14, color: '#222', fontFamily: FONT, padding: [0, 0, 0, 6] },
      data: ['Truth ALEXIS ROCHA: 18', 'Truth JOSEPH DIAZ: 9', 'Predicted ALEXIS ROCHA: 12.8', 'Predicted JOSEPH DIAZ: 9.8']
    }]
  ),
  graphic: [
    { type: 'text', x: 1085, y: 30, style: { text: titleRocha, font: '20.8px "DejaVu Sans"', fill: '#000', align: 'center', verticalAlign: 'middle' } },
    { type: 'text', x: 1085, y: 558, style: { text: titleDiaz, font: '20.8px "DejaVu Sans"', fill: '#000', align: 'center', verticalAlign: 'middle' } }
  ],
  series: [].concat(
    probabilityPanel(0, rochaSolid, rochaPred),
    probabilityPanel(1, diazSolid, diazPred),
    countSeries
  )
};

chart.setOption(option);
</script>
</body>
</html>
